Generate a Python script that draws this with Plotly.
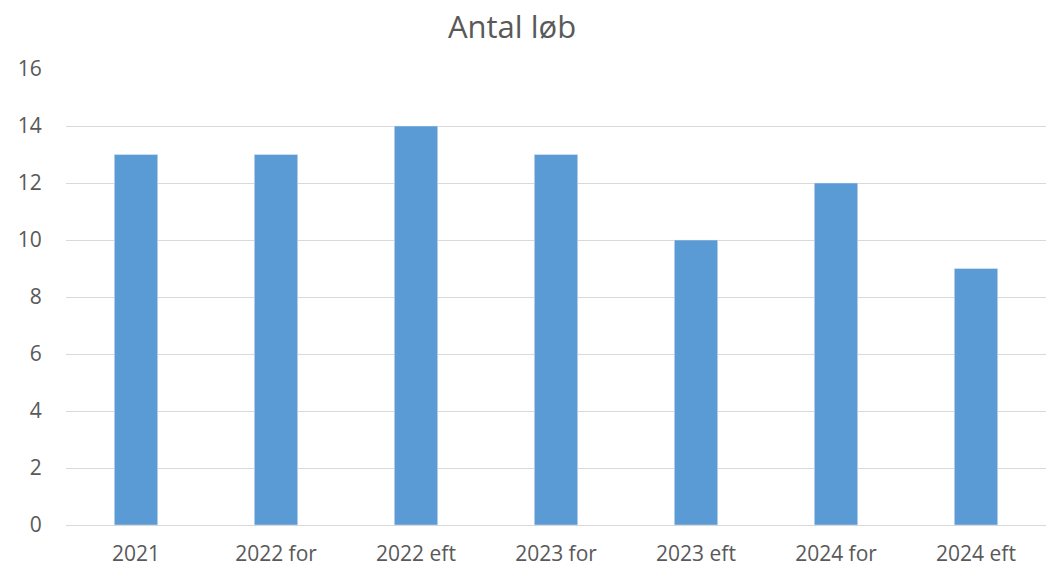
import plotly.graph_objects as go

categories = ["2021", "2022 for", "2022 eft", "2023 for", "2023 eft", "2024 for", "2024 eft"]
values = [13, 13, 14, 13, 10, 12, 9]
y_ticks = [0, 2, 4, 6, 8, 10, 12, 14, 16]

W, H = 1053, 561

fig = go.Figure(go.Bar(x=categories, y=values, marker_color="#5B9BD5", width=0.31))

fig.update_layout(
    width=W, height=H,
    paper_bgcolor="white", plot_bgcolor="white",
    margin=dict(l=58, r=15, t=61, b=44, autoexpand=False),
    font=dict(family="Open Sans, sans-serif", size=21, color="#595959"),
    title=dict(text="Antal løb", x=504 / W, xanchor="center", y=1 - 19 / H, yanchor="middle",
               font=dict(size=31, color="#595959")),
    showlegend=False,
    bargap=0.69,
)
fig.update_xaxes(showgrid=False, showline=True, linecolor="#d9d9d9", linewidth=1,
                 ticks="outside", ticklen=10, tickcolor="rgba(0,0,0,0)", automargin=False,
                 tickfont=dict(size=21, color="#595959"))
fig.update_yaxes(range=[0, 16], tickvals=y_ticks, showgrid=True, gridcolor="#d9d9d9",
                 gridwidth=1, zeroline=False, showline=False, automargin=False,
                 ticks="outside", ticklen=19, tickcolor="rgba(0,0,0,0)",
                 tickfont=dict(size=21, color="#595959"))

fig.write_html("out.html")
